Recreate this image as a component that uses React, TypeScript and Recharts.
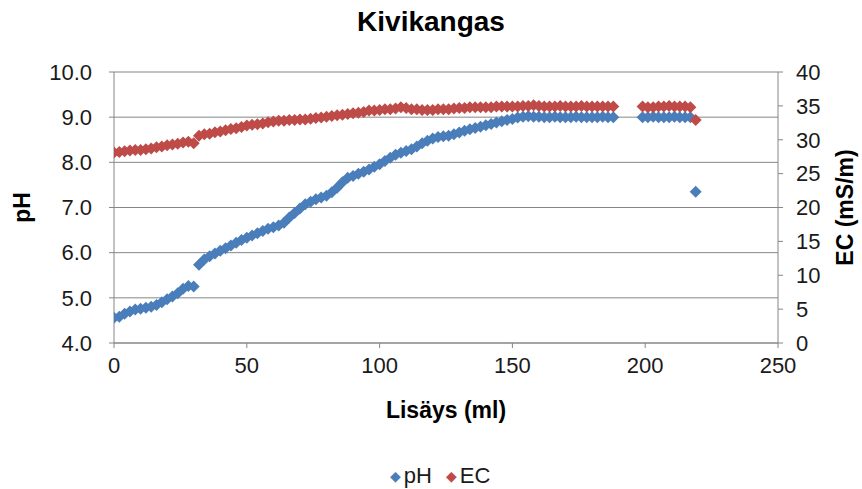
import React from 'react';
import {
  ScatterChart,
  Scatter,
  XAxis,
  YAxis,
  CartesianGrid,
  Label
} from 'recharts';

// Lisäys (ml)
const lisays = [
  0, 2, 4, 6, 8, 10, 12, 14, 16, 18, 20, 22, 24, 26, 28, 30,
  32, 34, 36, 38, 40, 42, 44, 46, 48, 50, 52, 54, 56, 58, 60, 62,
  64, 66, 68, 70, 72, 74, 76, 78, 80, 82, 84, 86, 88, 90, 92, 94,
  96, 98, 100, 102, 104, 106, 108, 110, 112, 114, 116, 118, 120, 122, 124, 126,
  128, 130, 132, 134, 136, 138, 140, 142, 144, 146, 148, 150, 152, 154, 156, 158,
  160, 162, 164, 166, 168, 170, 172, 174, 176, 178, 180, 182, 184, 186, 188,
  199, 201, 203, 205, 207, 209, 211, 213, 215, 217,
  219
];

const phValues = [
  4.56, 4.58, 4.65, 4.70, 4.74, 4.76, 4.78, 4.80, 4.84, 4.90, 4.97, 5.03, 5.10, 5.20, 5.26, 5.25,
  5.73, 5.85, 5.92, 5.98, 6.04, 6.10, 6.16, 6.22, 6.28, 6.33, 6.38, 6.43, 6.48, 6.53, 6.56, 6.60,
  6.66, 6.78, 6.88, 6.98, 7.07, 7.13, 7.18, 7.22, 7.26, 7.34, 7.44, 7.56, 7.66, 7.70, 7.75, 7.79,
  7.84, 7.90, 7.96, 8.03, 8.10, 8.17, 8.21, 8.25, 8.29, 8.35, 8.42, 8.48, 8.53, 8.56, 8.58, 8.59,
  8.62, 8.66, 8.70, 8.73, 8.76, 8.79, 8.82, 8.85, 8.88, 8.91, 8.94, 8.96, 8.99, 9.01, 9.02, 9.01,
  9.01, 9.00, 9.00, 9.01, 9.00, 9.00, 9.00, 9.01, 9.00, 9.00, 9.00, 9.00, 9.01, 9.00, 9.00,
  9.00, 9.00, 9.01, 9.00, 9.00, 9.00, 9.01, 9.00, 9.00, 9.00,
  7.35
];

const ecValues = [
  28.1, 28.2, 28.3, 28.4, 28.5, 28.5, 28.6, 28.7, 28.9, 29.0, 29.2, 29.3, 29.4, 29.6, 29.7, 29.5,
  30.6, 30.8, 30.9, 31.1, 31.2, 31.4, 31.6, 31.7, 31.9, 32.1, 32.2, 32.3, 32.4, 32.6, 32.7, 32.8,
  32.8, 32.9, 32.9, 33.0, 33.0, 33.1, 33.2, 33.3, 33.4, 33.5, 33.6, 33.7, 33.8, 33.9, 34.0, 34.1,
  34.3, 34.3, 34.4, 34.5, 34.5, 34.6, 34.8, 34.7, 34.5, 34.5, 34.4, 34.4, 34.4, 34.5, 34.5, 34.5,
  34.6, 34.7, 34.7, 34.8, 34.8, 34.8, 34.8, 34.8, 34.9, 34.9, 34.9, 34.9, 34.9, 35.0, 35.0, 35.1,
  35.0, 34.9, 34.9, 34.9, 35.0, 34.9, 34.9, 34.9, 35.0, 34.9, 34.9, 34.9, 34.9, 34.9, 34.9,
  34.9, 34.8, 34.8, 34.9, 34.9, 35.0, 34.9, 34.9, 34.9, 34.8,
  32.9
];

const xTicks = [0, 50, 100, 150, 200, 250];
const phTicks = [4, 5, 6, 7, 8, 9, 10];
const ecTicks = [0, 5, 10, 15, 20, 25, 30, 35, 40];

const data = lisays.map((x, i) => ({ x, ph: phValues[i], ec: ecValues[i] }));

const FONT = '"Liberation Sans", Arial, sans-serif';
const BLUE = '#4A7EBB';
const RED = '#BE4B48';
const AXIS = '#868686';

const Diamond = (props: any) => {
  const { cx, cy, fill } = props;
  if (cx == null || cy == null) return null;
  const r = 6;
  return (
    <polygon
      points={`${cx},${cy - r} ${cx + r},${cy} ${cx},${cy + r} ${cx - r},${cy}`}
      fill={fill}
    />
  );
};

const VerticalTitle = ({ viewBox, value, dx }: any) => {
  const x = viewBox.x + dx;
  const y = viewBox.y + viewBox.height / 2;
  return (
    <text
      x={x}
      y={y}
      transform={`rotate(-90 ${x} ${y})`}
      textAnchor="middle"
      dominantBaseline="central"
      fontFamily={FONT}
      fontWeight="bold"
      fontSize={23}
      fill="#000"
    >
      {value}
    </text>
  );
};

const tickStyle = { fontFamily: FONT, fontSize: 22, fill: '#1a1a1a' };

export default function App() {
  return (
    <div style={{ position: 'absolute', left: 0, top: 0, width: 862, height: 489, background: '#fff' }}>
      <div
        style={{
          position: 'absolute',
          top: 6,
          left: 0,
          width: 862,
          textAlign: 'center',
          fontFamily: FONT,
          fontWeight: 'bold',
          fontSize: 28,
          color: '#000'
        }}
      >
        Kivikangas
      </div>
      <ScatterChart width={862} height={489} margin={{ top: 72, right: 0, bottom: 0, left: 0 }}>
        <CartesianGrid yAxisId="left" vertical={false} stroke={AXIS} />
        <XAxis
          type="number"
          dataKey="x"
          domain={[0, 250]}
          ticks={xTicks}
          height={146}
          stroke={AXIS}
          tickSize={5}
          tickMargin={9}
          tick={tickStyle}
          allowDataOverflow
        >
          <Label
            content={(p: any) => (
              <text
                x={p.viewBox.x + p.viewBox.width / 2}
                y={410}
                textAnchor="middle"
                dominantBaseline="central"
                fontFamily={FONT}
                fontWeight="bold"
                fontSize={23}
                fill="#000"
              >
                Lisäys (ml)
              </text>
            )}
          />
        </XAxis>
        <YAxis
          yAxisId="left"
          type="number"
          dataKey="ph"
          domain={[4, 10]}
          ticks={phTicks}
          width={114}
          stroke={AXIS}
          tickSize={5}
          tickMargin={17}
          tick={tickStyle}
          tickFormatter={(v: number) => v.toFixed(1)}
          allowDataOverflow
        >
          <Label content={(p: any) => <VerticalTitle viewBox={p.viewBox} value="pH" dx={22} />} />
        </YAxis>
        <YAxis
          yAxisId="right"
          orientation="right"
          type="number"
          dataKey="ec"
          domain={[0, 40]}
          ticks={ecTicks}
          width={84}
          stroke={AXIS}
          tickSize={5}
          tickMargin={13}
          tick={tickStyle}
          allowDataOverflow
        >
          <Label content={(p: any) => <VerticalTitle viewBox={p.viewBox} value="EC (mS/m)" dx={67} />} />
        </YAxis>
        <Scatter
          name="pH"
          data={data}
          yAxisId="left"
          fill={BLUE}
          shape={Diamond}
          isAnimationActive={false}
        />
        <Scatter
          name="EC"
          data={data}
          yAxisId="right"
          fill={RED}
          shape={Diamond}
          isAnimationActive={false}
        />
      </ScatterChart>
      <div
        style={{
          position: 'absolute',
          top: 463,
          left: 0,
          width: 880,
          display: 'flex',
          justifyContent: 'center',
          alignItems: 'center',
          fontFamily: FONT,
          fontSize: 22,
          color: '#1a1a1a'
        }}
      >
        <span style={{ color: BLUE, fontSize: 14, marginRight: 3 }}>◆</span>
        <span style={{ marginRight: 14 }}>pH</span>
        <span style={{ color: RED, fontSize: 14, marginRight: 3 }}>◆</span>
        <span>EC</span>
      </div>
    </div>
  );
}
